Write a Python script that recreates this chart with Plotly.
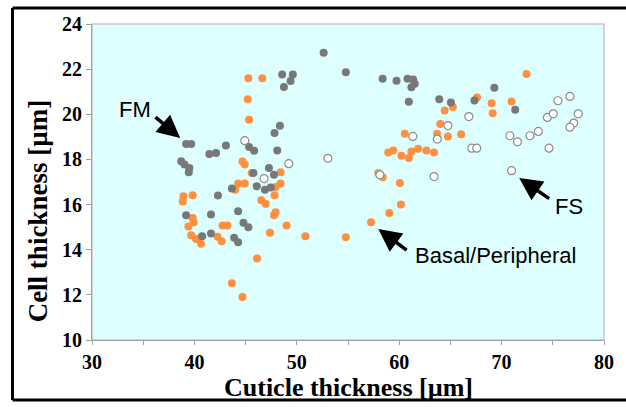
import plotly.graph_objects as go

# FM (filled gray)
fm_x = [39.19, 39.68, 43.08, 41.46, 42.11, 38.71, 39.03, 39.51, 39.45, 45.34, 45.83, 47.83, 48.09,
        45.76, 47.28, 47.77, 46.09, 46.89, 47.45, 43.66, 42.30, 44.27, 41.62, 39.19, 44.79, 45.27,
        41.62, 40.75, 43.88, 44.27, 48.35, 52.62, 48.57, 49.61, 49.39, 48.74, 54.79, 58.38, 59.74,
        60.81, 61.36, 61.52, 61.19, 60.94, 63.91, 65.05, 67.35, 69.29, 71.33]
fm_y = [18.68, 18.68, 18.62, 18.24, 18.28, 17.92, 17.77, 17.62, 17.43, 18.55, 18.39, 19.17, 18.40,
        17.40, 17.62, 17.32, 16.81, 16.66, 16.76, 16.71, 16.40, 15.70, 15.56, 15.53, 15.19, 15.00,
        14.72, 14.60, 14.53, 14.33, 19.49, 22.73, 21.76, 21.76, 21.48, 21.21, 21.86, 21.57, 21.49,
        21.57, 21.54, 21.35, 21.20, 20.56, 20.67, 20.52, 20.61, 21.18, 20.20]

# Basal/Peripheral (filled orange)
bp_x = [44.69, 44.92, 45.60, 48.42, 48.42, 47.93, 44.27, 44.92, 43.98, 47.83, 38.93, 38.86, 39.83,
        46.53, 46.96, 47.93, 47.77, 39.83, 39.93, 39.42, 42.75, 43.23, 49.00, 47.38, 50.84, 39.68,
        40.17, 40.65, 42.26, 42.65, 46.12, 43.66, 44.69, 45.27, 46.63, 45.21, 45.34, 54.79, 57.25,
        59.03, 60.17, 60.07, 57.96, 58.38, 58.93, 59.42, 60.22, 60.94, 61.19, 61.84, 62.65, 63.40,
        60.55, 63.69, 64.76, 66.05, 64.01, 64.44, 65.24, 67.60, 69.03, 69.13, 70.97, 72.43]
bp_y = [17.91, 17.77, 17.40, 17.43, 16.93, 16.78, 16.93, 16.93, 16.66, 16.41, 16.37, 16.14, 16.41,
        16.19, 16.04, 15.66, 15.53, 15.41, 15.22, 15.03, 15.07, 15.07, 15.07, 14.75, 14.60, 14.64,
        14.48, 14.26, 14.57, 14.38, 13.61, 12.51, 11.90, 21.60, 21.60, 20.67, 19.76, 14.55, 15.22,
        15.63, 16.00, 16.96, 17.40, 17.21, 18.31, 18.40, 18.16, 18.06, 18.35, 18.47, 18.40, 18.31,
        19.14, 19.14, 19.02, 19.12, 19.57, 20.17, 20.32, 20.74, 20.49, 20.05, 20.57, 21.79]

# FS (open circles)
fs_x = [44.92, 49.22, 46.80, 53.04, 58.11, 61.33, 63.72, 63.40, 64.76, 66.80, 67.09, 67.57, 70.81,
        71.55, 72.77, 73.59, 74.47, 75.05, 75.50, 76.67, 77.48, 77.04, 76.67, 74.63, 70.97]
fs_y = [18.83, 17.81, 17.15, 18.05, 17.32, 19.02, 18.90, 17.24, 19.50, 19.90, 18.50, 18.50, 19.05,
        18.78, 19.05, 19.24, 19.86, 20.02, 20.60, 20.79, 20.02, 19.61, 19.43, 18.50, 17.50]

x_ticks = [30, 40, 50, 60, 70, 80]
y_ticks = [10, 12, 14, 16, 18, 20, 22, 24]

fig = go.Figure()
fig.add_trace(go.Scatter(x=bp_x, y=bp_y, mode="markers", name="Basal/Peripheral",
                         marker=dict(size=8, color="#FF9040", line=dict(width=0))))
fig.add_trace(go.Scatter(x=fm_x, y=fm_y, mode="markers", name="FM",
                         marker=dict(size=8, color="#787878", line=dict(width=0))))
fig.add_trace(go.Scatter(x=fs_x, y=fs_y, mode="markers", name="FS",
                         marker=dict(size=8, color="white", line=dict(width=1.2, color="#8C8C8C"))))

tickfont = dict(family="Liberation Serif, Times New Roman, serif", size=20, color="black")
fig.update_xaxes(range=[30, 80], tickvals=x_ticks, ticktext=["<b>%d</b>" % v for v in x_ticks],
                 minor=dict(dtick=5, ticks="outside", ticklen=4, tickcolor="#A0A0A0"),
                 ticks="outside", ticklen=4, tickcolor="#A0A0A0", showline=True, linecolor="#A0A0A0",
                 linewidth=1.2, mirror=False, showgrid=False, zeroline=False, tickfont=tickfont)
fig.update_yaxes(range=[10, 24], tickvals=y_ticks, ticktext=["<b>%d</b>" % v for v in y_ticks],
                 ticks="outside", ticklen=5, tickcolor="#A0A0A0", showline=True, linecolor="#A0A0A0",
                 linewidth=1.2, showgrid=False, zeroline=False, tickfont=tickfont)

annfont = dict(family="Liberation Sans, Arial, sans-serif", size=22, color="black")
anns = [
    dict(x=34.17, y=20.22, text="FM", showarrow=False, font=annfont),
    dict(x=69.42, y=13.74, text="Basal/Peripheral", showarrow=False, font=annfont),
    dict(x=76.55, y=15.91, text="FS", showarrow=False, font=annfont),
]
for (hx, hy, tx, ty) in [(38.61, 18.95, 36.05, 19.93), (57.96, 14.92, 60.87, 13.93),
                         (71.72, 17.18, 74.79, 16.22)]:
    anns.append(dict(x=hx, y=hy, ax=tx, ay=ty, axref="x", ayref="y", xref="x", yref="y",
                     text="", showarrow=True, arrowhead=2, arrowsize=1.3, arrowwidth=3.5,
                     arrowcolor="black"))
titlefont = dict(family="Liberation Serif, Times New Roman, serif", size=27, color="black")
anns.append(dict(xref="paper", yref="paper", x=0.5, y=-0.149, text="<b>Cuticle thickness [µm]</b>",
                 showarrow=False, font=dict(titlefont, size=26), xanchor="center", yanchor="middle"))
anns.append(dict(xref="paper", yref="paper", x=-0.1049, y=0.408, text="<b>Cell thickness [µm]</b>",
                 showarrow=False, font=titlefont, textangle=-90,
                 xanchor="center", yanchor="middle"))

shapes = [
    dict(type="rect", xref="paper", yref="paper", x0=0, y0=0, x1=1, y1=1,
         line=dict(color="#C8C8C8", width=1.5), layer="below"),
    dict(type="line", xref="paper", yref="paper", x0=-0.1553, y0=1.0506, x1=1.06, y1=1.0506,
         line=dict(color="black", width=3)),
    dict(type="line", xref="paper", yref="paper", x0=-0.1553, y0=1.0506, x1=-0.1553, y1=-0.1899,
         line=dict(color="black", width=3)),
    dict(type="line", xref="paper", yref="paper", x0=-0.1553, y0=-0.1899, x1=1.06, y1=-0.1899,
         line=dict(color="black", width=3)),
]

fig.update_layout(width=626, height=407, margin=dict(l=92, r=19, t=24, b=67),
                  paper_bgcolor="white", plot_bgcolor="#DDFFFF", showlegend=False,
                  annotations=anns, shapes=shapes)
fig.write_html("out.html")
